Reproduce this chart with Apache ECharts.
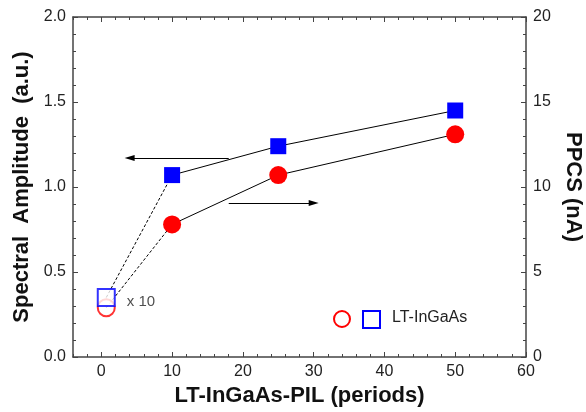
<!DOCTYPE html>
<html>
<head>
<meta charset="utf-8">
<script src="https://cdn.jsdelivr.net/npm/echarts@6/dist/echarts.min.js"></script>
<style>
  html, body { margin: 0; padding: 0; background: #fff; }
  #chart { width: 586px; height: 412px; }
</style>
</head>
<body>
<div id="chart"></div>
<script>
// data
var periods = [0.7, 10, 25, 50];              // LT-InGaAs-PIL periods (first point = bulk LT-InGaAs)
var amplitude = [0.35, 1.07, 1.24, 1.45];     // spectral amplitude (a.u.), left axis
var ppcs = [2.9, 7.8, 10.7, 13.1];            // PPCS (nA), right axis
var xMajorTicks = [0, 10, 20, 30, 40, 50, 60];
var xMinorTicks = [-4, -2, 2, 4, 6, 8, 12, 14, 16, 18, 22, 24, 26, 28, 32, 34, 36, 38, 42, 44, 46, 48, 52, 54, 56, 58];
var legendLabel = 'LT-InGaAs';
var scaleNote = 'x 10';

var FONT = 'Liberation Sans, Arial, sans-serif';
var AXIS_COLOR = '#444';
var RED = '#ff0000';
var BLUE = '#0000ff';
var titleStyle = { fontSize : 22, fontWeight : 'bold', color : '#111', fontFamily : FONT };

function pts(xs, ys, from, to) {
    var out = [];
    for (var i = from; i <= to; i++) {
        out.push([xs[i], ys[i]]);
    }
    return out;
}

function xAxisDef(pos, ticks, len, showLabel, showLine) {
    return {
        type : 'value',
        position : pos,
        min : -4,
        max : 60,
        axisLine : { show : showLine, onZero : false, lineStyle : { color : AXIS_COLOR, width : 1.5 } },
        axisTick : { show : true, inside : true, length : len, customValues : ticks,
                     lineStyle : { color : AXIS_COLOR, width : 1 } },
        axisLabel : { show : showLabel, customValues : ticks, margin : 7, color : '#222',
                      fontSize : 16, fontFamily : FONT },
        splitLine : { show : false }
    };
}

var chart = echarts.init(document.getElementById('chart'), null, { renderer : 'canvas' });

var bottomMajor = xAxisDef('bottom', xMajorTicks, 5, true, true);
bottomMajor.name = 'LT-InGaAs-PIL (periods)';
bottomMajor.nameLocation = 'middle';
bottomMajor.nameGap = 27;
bottomMajor.nameTextStyle = titleStyle;

var option = {
    animation : false,
    backgroundColor : '#fff',
    grid : { left : 73, right : 60, top : 17, bottom : 55, containLabel : false, outerBoundsMode : 'none' },
    xAxis : [
        bottomMajor,
        xAxisDef('bottom', xMinorTicks, 3, false, false),
        xAxisDef('top', xMajorTicks, 5, false, true),
        xAxisDef('top', xMinorTicks, 3, false, false)
    ],
    yAxis : [{
            type : 'value',
            position : 'left',
            min : 0,
            max : 2,
            interval : 0.5,
            name : 'Spectral  Amplitude  (a.u.)',
            nameLocation : 'middle',
            nameGap : 40,
            nameTextStyle : titleStyle,
            axisLine : { show : true, onZero : false, lineStyle : { color : AXIS_COLOR, width : 1.5 } },
            axisTick : { inside : true, length : 5, lineStyle : { color : AXIS_COLOR } },
            minorTick : { show : true, splitNumber : 5, length : 3, lineStyle : { color : AXIS_COLOR } },
            axisLabel : { margin : 7, color : '#222', fontSize : 16, fontFamily : FONT,
                          formatter : function (v) { return v.toFixed(1); } },
            splitLine : { show : false }
        }, {
            type : 'value',
            position : 'right',
            min : 0,
            max : 20,
            interval : 5,
            name : 'PPCS (nA)',
            nameLocation : 'middle',
            nameRotate : -90,
            nameGap : 36,
            nameTextStyle : titleStyle,
            axisLine : { show : true, onZero : false, lineStyle : { color : AXIS_COLOR, width : 1.5 } },
            axisTick : { inside : true, length : 5, lineStyle : { color : AXIS_COLOR } },
            minorTick : { show : true, splitNumber : 5, length : 3, lineStyle : { color : AXIS_COLOR } },
            axisLabel : { margin : 7, color : '#222', fontSize : 16, fontFamily : FONT },
            splitLine : { show : false }
        }
    ],
    series : [
        // dashed links from the bulk LT-InGaAs points (x10) to the first PIL sample
        {
            type : 'line',
            yAxisIndex : 1,
            data : pts(periods, ppcs, 0, 1),
            symbol : 'none',
            lineStyle : { color : '#000', width : 1, type : [3, 2] },
            z : 1
        }, {
            type : 'line',
            yAxisIndex : 0,
            data : pts(periods, amplitude, 0, 1),
            symbol : 'none',
            lineStyle : { color : '#000', width : 1, type : [3, 2] },
            z : 1
        },
        // PPCS (right axis)
        {
            type : 'line',
            yAxisIndex : 1,
            data : pts(periods, ppcs, 1, 3),
            symbol : 'circle',
            symbolSize : 18,
            itemStyle : { color : RED },
            lineStyle : { color : '#000', width : 1 },
            z : 2
        },
        // spectral amplitude (left axis) + the two annotation arrows
        {
            type : 'line',
            yAxisIndex : 0,
            data : pts(periods, amplitude, 1, 3),
            symbol : 'rect',
            symbolSize : 16,
            itemStyle : { color : BLUE },
            lineStyle : { color : '#000', width : 1 },
            z : 3,
            markLine : {
                silent : true,
                symbol : ['none', 'triangle'],
                symbolSize : [6, 10],
                label : { show : false },
                lineStyle : { color : '#000', width : 1, type : 'solid' },
                data : [
                    [{ coord : [18, 1.17] }, { coord : [4, 1.17] }],
                    [{ coord : [18, 0.906] }, { coord : [30, 0.906] }]
                ]
            }
        },
        // bulk LT-InGaAs, hollow markers
        {
            type : 'scatter',
            yAxisIndex : 1,
            data : pts(periods, ppcs, 0, 0),
            symbol : 'circle',
            symbolSize : 17,
            itemStyle : { color : '#fff', borderColor : RED, borderWidth : 2 },
            z : 4
        }, {
            type : 'scatter',
            yAxisIndex : 0,
            data : pts(periods, amplitude, 0, 0),
            symbol : 'rect',
            symbolSize : 17,
            itemStyle : { color : '#fff', borderColor : BLUE, borderWidth : 2 },
            label : { show : true, position : 'right', distance : 11, offset : [0, 4],
                      formatter : scaleNote, color : '#222', fontSize : 15, fontFamily : FONT },
            z : 5
        }
    ],
    graphic : [
        { type : 'circle', shape : { cx : 342, cy : 319, r : 8 },
          style : { fill : 'none', stroke : RED, lineWidth : 2 } },
        { type : 'rect', shape : { x : 363, y : 311, width : 17, height : 17 },
          style : { fill : 'none', stroke : BLUE, lineWidth : 2 } },
        { type : 'text', left : 392, top : 310,
          style : { text : legendLabel, fill : '#222', fontSize : 16, fontFamily : FONT } }
    ]
};

chart.setOption(option);
</script>
</body>
</html>
